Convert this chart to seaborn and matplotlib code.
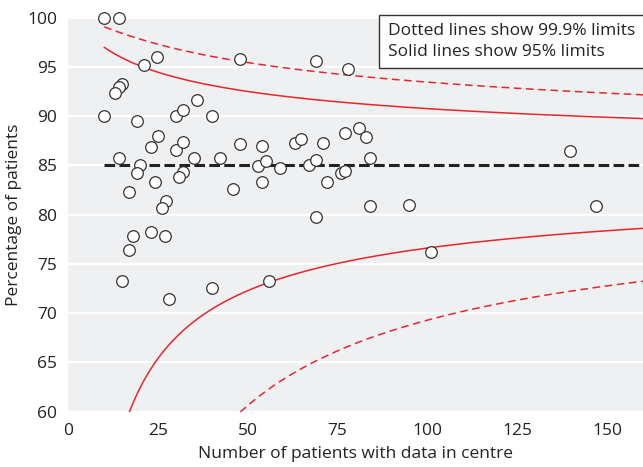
import numpy as np
import pandas as pd
import matplotlib
matplotlib.use('Agg')
import matplotlib.pyplot as plt
import seaborn as sns

n_patients = [10, 14, 21, 24.8, 47.9, 15, 14.2, 13.1, 10, 19, 35.9, 30, 31.9, 40,
              24.9, 22.9, 30, 31.9, 14, 35, 42.1, 47.7, 19.9, 19, 24.1, 31.9, 30.9,
              16.9, 45.9, 27.1, 26, 18, 23, 26.9, 16.9, 15, 28, 40, 69, 77.9, 80.8,
              82.9, 76.9, 53.9, 63, 64.9, 70.9, 52.9, 55, 58.9, 66.9, 69, 53.9, 71.9,
              75.8, 76.9, 83.9, 83.9, 94.9, 69, 100.9, 56, 139.8, 146.9]
pct_patients = [100, 100, 95.2, 96.0, 95.8, 93.3, 92.9, 92.3, 90.0, 89.5, 91.6, 90.0,
                90.6, 90.0, 88.0, 86.9, 86.6, 87.4, 85.7, 85.7, 85.7, 87.2, 85.0, 84.2,
                83.3, 84.3, 83.8, 82.3, 82.6, 81.4, 80.7, 77.8, 78.2, 77.8, 76.4, 73.3,
                71.4, 72.5, 95.6, 94.8, 88.8, 87.9, 88.3, 87.0, 87.3, 87.7, 87.3, 84.9,
                85.4, 84.7, 85.0, 85.5, 83.3, 83.3, 84.2, 84.4, 85.7, 80.9, 81.0, 79.7,
                76.2, 73.2, 86.4, 80.9]

target = 0.85
z_95 = 1.96
z_999 = 3.29
x_ticks = [0, 25, 50, 75, 100, 125, 150]
y_ticks = [60, 65, 70, 75, 80, 85, 90, 95, 100]

df = pd.DataFrame({'n': n_patients, 'pct': pct_patients})

# Funnel limits on the logit scale
n_grid = np.linspace(10, 160, 300)
se = 1 / np.sqrt(n_grid * target * (1 - target))
logit_t = np.log(target / (1 - target))


def inv_logit(v):
    return 100 / (1 + np.exp(-v))


limits = pd.DataFrame({
    'n': n_grid,
    'up95': inv_logit(logit_t + z_95 * se),
    'lo95': inv_logit(logit_t - z_95 * se),
    'up999': inv_logit(logit_t + z_999 * se),
    'lo999': inv_logit(logit_t - z_999 * se),
})

sns.set_style('white', {'axes.facecolor': '#eff0f2'})
plt.rcParams['font.family'] = ['Open Sans', 'DejaVu Sans']
plt.rcParams['font.size'] = 12

fig = plt.figure(figsize=(6.43, 4.67), dpi=100)
ax = fig.add_axes([0.1062, 0.1188, 0.8938, 0.8437])

for y in y_ticks:
    ax.axhline(y, color='white', lw=1.6, zorder=0)

red = '#e8262b'
sns.lineplot(data=limits, x='n', y='up95', color=red, lw=1.1, ax=ax)
sns.lineplot(data=limits, x='n', y='lo95', color=red, lw=1.1, ax=ax)
sns.lineplot(data=limits, x='n', y='up999', color=red, lw=1.1, ax=ax)
sns.lineplot(data=limits, x='n', y='lo999', color=red, lw=1.1, ax=ax)
ax.lines[-1].set_dashes((5, 3))
ax.lines[-2].set_dashes((5, 3))

ax.plot([10, 160], [target * 100] * 2, color='#222222', lw=2.2, dashes=(3.5, 1.4))

sns.scatterplot(data=df, x='n', y='pct', s=70, color='white', edgecolor='#333333',
                linewidth=0.9, ax=ax, zorder=5)
for c in ax.collections:
    c.set_clip_on(False)

ax.set_xlim(0, 160)
ax.set_ylim(60, 100)
ax.set_xticks(x_ticks)
ax.set_yticks(y_ticks)
ax.tick_params(axis='x', direction='in', length=6, width=1.5, color='white', pad=8,
               labelsize=12.5, labelcolor='#222222')
ax.tick_params(axis='y', length=0, pad=8, labelsize=12.5, labelcolor='#222222')
sns.despine(ax=ax, left=True, bottom=True, top=True, right=True)

ax.set_xlabel('Number of patients with data in centre', fontsize=12.5, color='#222222', labelpad=5)
ax.set_ylabel('Percentage of patients', fontsize=12.5, color='#222222', labelpad=4)

ax.text(0.556, 0.985, 'Dotted lines show 99.9% limits\nSolid lines show 95% limits',
        transform=ax.transAxes, fontsize=12.5, color='#222222', linespacing=1.35,
        ha='left', va='top', zorder=6,
        bbox=dict(boxstyle='square,pad=0.5', facecolor='white', edgecolor='#333333', lw=1.0))

fig.savefig('out.png', dpi=100)
plt.close(fig)
